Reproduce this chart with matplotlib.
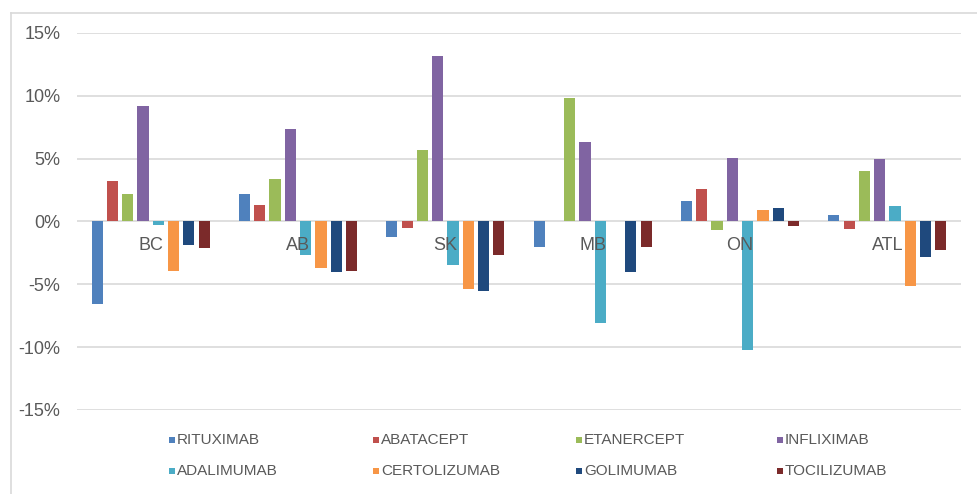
import numpy as np
import matplotlib
matplotlib.use('Agg')
import matplotlib.pyplot as plt
from matplotlib.lines import Line2D
from matplotlib.patches import Rectangle
from matplotlib.transforms import offset_copy

plt.rcParams['font.family'] = ['Liberation Sans', 'DejaVu Sans']

regions = ['BC', 'AB', 'SK', 'MB', 'ON', 'ATL']
drugs = ['RITUXIMAB', 'ABATACEPT', 'ETANERCEPT', 'INFLIXIMAB',
         'ADALIMUMAB', 'CERTOLIZUMAB', 'GOLIMUMAB', 'TOCILIZUMAB']

# change per region, in %
rituximab = [-6.6, 2.2, -1.2, -2.0, 1.65, 0.55]
abatacept = [3.2, 1.3, -0.5, 0.0, 2.55, -0.6]
etanercept = [2.2, 3.4, 5.65, 9.8, -0.7, 4.05]
infliximab = [9.2, 7.4, 13.2, 6.3, 5.05, 5.0]
adalimumab = [-0.25, -2.7, -3.5, -8.1, -10.2, 1.2]
certolizumab = [-3.9, -3.7, -5.4, 0.0, 0.9, -5.1]
golimumab = [-1.9, -4.0, -5.5, -4.0, 1.05, -2.85]
tocilizumab = [-2.1, -3.9, -2.7, -2.0, -0.35, -2.25]

series = [rituximab, abatacept, etanercept, infliximab,
          adalimumab, certolizumab, golimumab, tocilizumab]
colors = ['#4F81BD', '#C0504D', '#9BBB59', '#8064A2',
          '#4BACC6', '#F79646', '#1F497D', '#7B2A2A']

grey = '#595959'

fig = plt.figure(figsize=(9.77, 4.94), dpi=100)
ax = fig.add_axes([77 / 977, 1 - 410 / 494, (961 - 77) / 977, (410 - 33) / 494])

x = np.arange(len(regions))
stride = 0.104
width = 0.075
for j, (vals, col) in enumerate(zip(series, colors)):
    ax.bar(x + (j - 3.5) * stride, np.array(vals) / 100, width, color=col,
           zorder=2, label=drugs[j])

yt = np.arange(-0.15, 0.151, 0.05)
for v in yt:
    ax.axhline(v, color='#D9D9D9', lw=1.2, zorder=0)

ax.set_xlim(-0.5, len(regions) - 0.5)
ax.set_ylim(-0.15, 0.15)
ax.set_yticks(yt)
ax.set_yticklabels([f'{round(v * 100):d}%' for v in yt], color=grey, fontsize=13)
ax.tick_params(axis='y', length=0, pad=12)
ax.set_xticks([])
for s in ax.spines.values():
    s.set_visible(False)

# region names sit just under the zero line, on top of the bars
lab_tr = offset_copy(ax.transData, fig=fig, y=-24, units='dots')
for i, r in enumerate(regions):
    ax.text(i, 0, r, transform=lab_tr, ha='center', va='center',
            fontsize=13, color=grey, zorder=5)

# legend in two rows of four
col_x = [169, 373, 576, 777]
row_y = [440, 471]
for k, (name, col) in enumerate(zip(drugs, colors)):
    px = col_x[k % 4]
    py = row_y[k // 4]
    fig.add_artist(Rectangle((px / 977, 1 - (py + 3) / 494), 6 / 977, 6 / 494,
                             transform=fig.transFigure, color=col, lw=0))
    fig.text((px + 8) / 977, 1 - py / 494, name, fontsize=11, color=grey,
             ha='left', va='center')

# chart frame
fig.add_artist(Line2D([11 / 977, 1], [1 - 13 / 494] * 2, color='#D9D9D9', lw=1.2,
                      transform=fig.transFigure))
fig.add_artist(Line2D([11 / 977] * 2, [0, 1 - 13 / 494], color='#D9D9D9', lw=1.2,
                      transform=fig.transFigure))

fig.savefig('out.png', dpi=100)
